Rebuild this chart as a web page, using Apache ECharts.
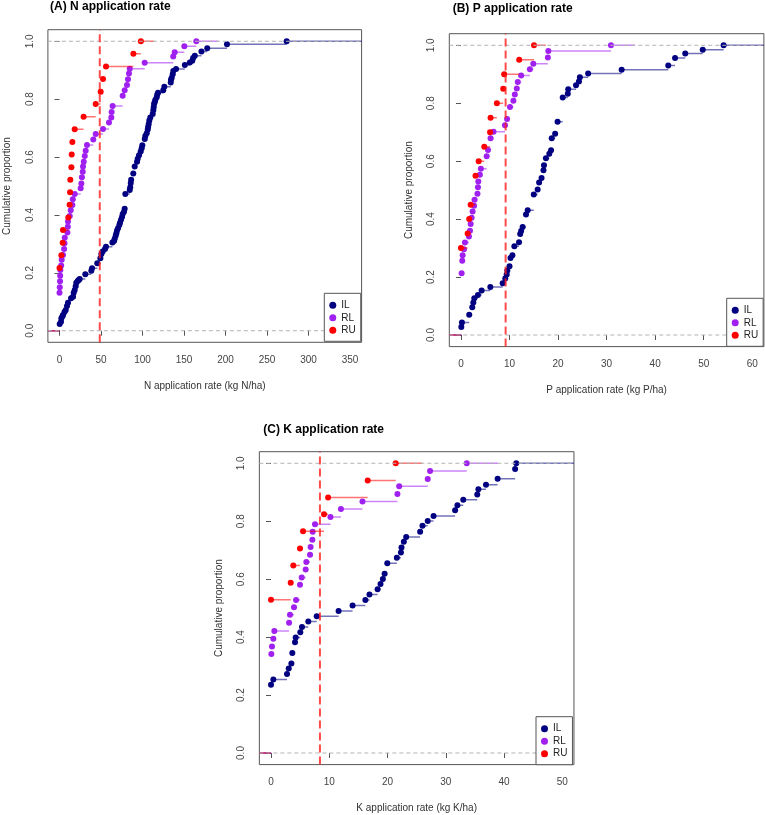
<!DOCTYPE html>
<html><head><meta charset="utf-8">
<script src="https://cdn.jsdelivr.net/npm/echarts@6/dist/echarts.min.js"></script>
<style>html,body{margin:0;padding:0;background:#fff}#c{width:765px;height:815px}</style>
</head><body><div id="c"></div>
<script>
// ---------- DATA (ECDF knots: x value, cumulative proportion) ----------
var N_IL_x = [0.2,1.8,2.2,3.5,4.2,6.0,7.5,9.0,10.2,13.9,16.3,17.1,18.3,19.5,20.2,22.0,23.1,24.3,31.1,38.3,39.2,45.5,49.2,50.4,52.0,54.8,56.0,63.7,65.7,66.5,67.7,68.5,69.3,70.5,72.1,72.9,74.1,75.3,76.1,77.7,78.5,79.3,84.6,85.2,85.8,86.3,88.9,90.6,93.4,94.2,95.8,97.8,99.0,99.8,102.7,103.4,105.1,106.3,106.8,107.5,108.2,109.4,112.3,113.0,113.5,113.9,114.7,115.4,117.1,117.8,118.7,125.0,126.3,134.0,134.3,135.2,136.4,137.1,140.4,151.0,157.0,160.0,161.0,163.0,171.0,178.0,201.8,273.7];
var N_IL_y = [0.023,0.031,0.043,0.050,0.054,0.065,0.072,0.085,0.097,0.112,0.117,0.131,0.141,0.154,0.166,0.172,0.175,0.179,0.195,0.207,0.216,0.233,0.250,0.265,0.274,0.282,0.290,0.305,0.310,0.318,0.328,0.337,0.346,0.354,0.365,0.373,0.383,0.393,0.403,0.411,0.421,0.472,0.486,0.496,0.510,0.522,0.543,0.567,0.584,0.594,0.606,0.619,0.630,0.641,0.662,0.673,0.682,0.695,0.705,0.714,0.726,0.737,0.749,0.762,0.772,0.783,0.789,0.797,0.807,0.816,0.822,0.831,0.843,0.858,0.867,0.874,0.886,0.897,0.904,0.918,0.927,0.933,0.942,0.950,0.965,0.976,0.990,1.0];
var N_RL_x = [0,0.3,0.6,0.8,1.0,2.0,2.6,4.2,5.5,6.0,6.3,9.5,10.0,10.2,12.3,13.5,15.5,16.0,18.3,25.5,26.3,27.0,28.0,28.3,29.2,30.4,31.5,33.1,40.7,43.6,52.4,59.6,62.4,62.8,64.0,76.1,78.5,81.3,82.5,83.7,84.6,102.6,137.0,138.8,150.4,164.8];
var N_RL_y = [0.131,0.150,0.171,0.190,0.210,0.225,0.245,0.262,0.282,0.302,0.321,0.339,0.359,0.377,0.396,0.416,0.434,0.454,0.472,0.492,0.509,0.530,0.549,0.567,0.584,0.604,0.622,0.642,0.661,0.680,0.697,0.719,0.737,0.756,0.776,0.812,0.831,0.849,0.869,0.889,0.905,0.926,0.947,0.962,0.983,1.0];
var N_RU_x = [0,2.2,3.8,4.2,10.6,12.2,12.7,13.0,14.3,14.7,15.5,18.3,29.0,43.6,49.6,52.4,56.0,89.0,98.0];
var N_RU_y = [0.217,0.261,0.304,0.348,0.391,0.435,0.478,0.522,0.565,0.609,0.652,0.696,0.739,0.783,0.826,0.870,0.913,0.957,1.0];

var P_IL_x = [0.07,0.2,1.7,2.33,2.55,2.75,3.5,4.26,6.05,8.6,9.13,9.42,9.55,10.0,10.2,10.6,11.0,11.96,12.2,12.4,12.7,13.4,13.75,15.0,15.8,16.1,16.6,17.0,17.1,17.5,18.2,18.56,18.7,19.4,19.9,20.96,22.0,22.1,23.7,24.3,24.5,26.2,33.1,42.7,44.1,46.2,49.8,54.1];
var P_IL_y = [0.028,0.043,0.070,0.096,0.112,0.127,0.138,0.154,0.166,0.179,0.195,0.209,0.223,0.237,0.266,0.275,0.306,0.320,0.349,0.359,0.373,0.416,0.431,0.485,0.502,0.526,0.542,0.569,0.586,0.610,0.626,0.638,0.679,0.695,0.736,0.820,0.833,0.848,0.862,0.875,0.890,0.903,0.916,0.930,0.956,0.972,0.985,1.0];
var P_RL_x = [0.14,0.27,0.35,0.62,0.82,1.65,1.86,2.0,2.2,2.4,2.7,2.8,3.4,3.5,3.57,3.9,4.1,5.3,5.57,6.1,6.7,9.07,9.5,10.1,10.8,11.1,11.5,11.7,12.4,14.2,14.9,17.9,18.0,30.9];
var P_RL_y = [0.213,0.256,0.275,0.296,0.319,0.340,0.360,0.383,0.405,0.426,0.446,0.467,0.488,0.510,0.530,0.553,0.574,0.617,0.639,0.679,0.702,0.724,0.746,0.787,0.809,0.830,0.851,0.873,0.896,0.917,0.936,0.958,0.980,1.0];
var P_RU_x = [0,1.38,1.7,2.0,3.0,3.65,4.8,6.0,6.1,7.4,8.7,8.9,12.0,15.05];
var P_RU_y = [0.30,0.35,0.40,0.45,0.55,0.60,0.65,0.70,0.75,0.80,0.85,0.90,0.95,1.0];

var K_IL_x = [0,0.4,2.75,3.04,3.5,3.66,4.12,4.24,5.03,5.32,6.4,7.85,11.6,14.0,16.2,16.9,18.3,18.8,19.2,19.5,19.96,21.6,22.3,22.4,22.8,23.2,25.6,26.0,26.9,27.9,31.6,32.0,33.0,35.4,35.6,36.9,38.9,41.9,42.1];
var K_IL_y = [0.236,0.254,0.273,0.292,0.309,0.345,0.382,0.399,0.417,0.435,0.454,0.472,0.490,0.509,0.528,0.547,0.565,0.583,0.601,0.619,0.655,0.674,0.692,0.709,0.729,0.746,0.764,0.784,0.801,0.818,0.838,0.855,0.874,0.892,0.910,0.926,0.947,0.980,1.0];
var K_RL_x = [0.06,0.17,0.4,0.57,3.1,3.26,3.95,4.3,4.98,5.27,5.95,6.06,6.7,6.8,7.1,7.15,7.55,10.2,12.0,15.7,21.7,22.0,26.9,27.3,33.6];
var K_RL_y = [0.342,0.368,0.394,0.421,0.450,0.477,0.503,0.528,0.581,0.606,0.633,0.659,0.684,0.711,0.736,0.764,0.790,0.815,0.842,0.868,0.894,0.921,0.946,0.973,1.0];
var K_RU_x = [0,3.38,3.83,4.98,5.5,9.1,9.8,16.6,21.4];
var K_RU_y = [0.529,0.588,0.647,0.706,0.765,0.824,0.882,0.941,1.0];

var N_ticks = [0,50,100,150,200,250,300,350];
var P_ticks = [0,10,20,30,40,50,60];
var K_ticks = [0,10,20,30,40,50];
var Y_ticks = [0,0.2,0.4,0.6,0.8,1.0];
var N_ref = 48.5, P_ref = 9.2, K_ref = 8.4;
var groupNames = ['IL','RL','RU'];

// ---------- LAYOUT ----------
var FONT = 'Liberation Sans, Arial, sans-serif';
var colors = {IL:'#000080', RL:'#A020F0', RU:'#FF0000'};
var panels = [
  {title:'(A) N application rate', xlabel:'N application rate (kg N/ha)', xmin:-14, xmax:364, ticks:N_ticks, ref:N_ref,
   data:{IL:[N_IL_x,N_IL_y], RL:[N_RL_x,N_RL_y], RU:[N_RU_x,N_RU_y]},
   grid:{left:47.9, top:29.7, width:313.7, height:312.6}, leg:{left:324.3, top:293.3}, tpos:{left:50, top:0.5}},
  {title:'(B) P application rate', xlabel:'P application rate (kg P/ha)', xmin:-2.4, xmax:62.4, ticks:P_ticks, ref:P_ref,
   data:{IL:[P_IL_x,P_IL_y], RL:[P_RL_x,P_RL_y], RU:[P_RU_x,P_RU_y]},
   grid:{left:449.3, top:33.7, width:314.6, height:312.9}, leg:{left:726.7, top:298.3}, tpos:{left:452.7, top:2.3}},
  {title:'(C) K application rate', xlabel:'K application rate (kg K/ha)', xmin:-2, xmax:52, ticks:K_ticks, ref:K_ref,
   data:{IL:[K_IL_x,K_IL_y], RL:[K_RL_x,K_RL_y], RU:[K_RU_x,K_RU_y]},
   grid:{left:259.35, top:451.7, width:314.6, height:312.9}, leg:{left:536, top:716.7}, tpos:{left:263.3, top:423.5}}
];

function median(a){ var s=a.slice().sort(function(p,q){return p-q;}); var n=s.length; return n%2? s[(n-1)/2] : (s[n/2-1]+s[n/2])/2; }
function stepSegments(xs, ys, xmin, xmax, full){
  var n = xs.length, L, R, i;
  if (full){ L = xmin; R = xmax; }
  else {
    var d=[]; for(i=1;i<n;i++) d.push(xs[i]-xs[i-1]);
    var dr = Math.max(0.08*(xs[n-1]-xs[0]), median(d));
    L = Math.max(xmin, xs[0]-2*dr); R = Math.min(xmax, xs[n-1]+2*dr);
  }
  var out = [[L, xs[0], 0]];
  for(i=0;i<n-1;i++) out.push([xs[i], xs[i+1], ys[i]]);
  out.push([xs[n-1], R, ys[n-1]]);
  return out;
}
function hsegRender(color, width, opacity, dash){
  return function(params, api){
    var a = api.coord([api.value(0), api.value(2)]);
    var b = api.coord([api.value(1), api.value(2)]);
    return {type:'line', shape:{x1:a[0], y1:a[1], x2:b[0], y2:b[1]},
      style:{stroke:color, lineWidth:width, opacity:opacity, lineDash:dash||null}};
  };
}

var option = {animation:false, backgroundColor:'#fff', textStyle:{fontFamily:FONT},
  title:[], grid:[], xAxis:[], yAxis:[], legend:[], series:[]};

panels.forEach(function(p, k){
  option.title.push({text:p.title, left:p.tpos.left, top:p.tpos.top, padding:0,
    textStyle:{fontFamily:FONT, fontSize:12, fontWeight:'bold', color:'#000'}});
  option.grid.push({left:p.grid.left, top:p.grid.top, width:p.grid.width, height:p.grid.height,
    show:true, borderColor:'#555', borderWidth:1, backgroundColor:'transparent', containLabel:false});
  option.xAxis.push({type:'value', gridIndex:k, min:p.xmin, max:p.xmax,
    name:p.xlabel, nameLocation:'middle', nameGap:38.5,
    nameTextStyle:{fontFamily:FONT, fontSize:10, color:'#333'},
    axisLine:{show:false}, splitLine:{show:false},
    axisTick:{show:true, length:5, customValues:p.ticks, lineStyle:{color:'#555'}},
    axisLabel:{customValues:p.ticks, fontFamily:FONT, fontSize:10, color:'#444', margin:13}});
  option.yAxis.push({type:'value', gridIndex:k, min:-0.04, max:1.04,
    name:'Cumulative proportion', nameLocation:'middle', nameGap:35.5, nameRotate:90,
    nameTextStyle:{fontFamily:FONT, fontSize:10, color:'#333'},
    axisLine:{show:false}, splitLine:{show:false},
    axisTick:{show:true, length:5, customValues:Y_ticks, lineStyle:{color:'#555'}},
    axisLabel:{customValues:Y_ticks, rotate:90, fontFamily:FONT, fontSize:10, color:'#444', margin:13,
      formatter:function(v){return v.toFixed(1);}}});
  option.legend.push({data:groupNames.map(function(g){return {name:g, icon:'circle'};}),
    orient:'vertical', left:p.leg.left, top:p.leg.top, itemWidth:7, itemHeight:7, itemGap:0.5, z:20,
    padding:[6,5,5,5], borderColor:'#555', borderWidth:1, backgroundColor:'#fff', borderRadius:0,
    selectedMode:false, textStyle:{fontFamily:FONT, fontSize:10, color:'#222', lineHeight:12}});

  groupNames.forEach(function(g, gi){
    var xs = p.data[g][0], ys = p.data[g][1];
    option.series.push({type:'custom', name:g+'-steps', xAxisIndex:k, yAxisIndex:k, silent:true, clip:true,
      z: 2+gi*2, encode:{x:[0,1], y:2},
      renderItem:hsegRender(colors[g], 1.5, 0.55),
      data:stepSegments(xs, ys, p.xmin, p.xmax, gi===0)});
    option.series.push({type:'scatter', name:g, xAxisIndex:k, yAxisIndex:k, silent:true,
      z: 3+gi*2, symbol:'circle', symbolSize:6, itemStyle:{color:colors[g], opacity:1},
      data:xs.map(function(x,i){return [x, ys[i]];})});
  });
  // 0 and 1 reference lines (gray dashed)
  option.series.push({type:'custom', name:'ref01', xAxisIndex:k, yAxisIndex:k, silent:true, z:8,
    encode:{x:[0,1], y:2}, renderItem:hsegRender('#b3b3b3', 1, 1, [4,3]),
    data:[[p.xmin, p.xmax, 0],[p.xmin, p.xmax, 1]]});
  // vertical red dashed line
  option.series.push({type:'custom', name:'vref', xAxisIndex:k, yAxisIndex:k, silent:true, z:9,
    encode:{x:0, y:[1,2]},
    renderItem:function(params, api){
      var a = api.coord([api.value(0), api.value(1)]);
      var b = api.coord([api.value(0), api.value(2)]);
      return {type:'line', shape:{x1:a[0], y1:a[1], x2:b[0], y2:b[1]},
        style:{stroke:'rgba(255,30,30,0.8)', lineWidth:2, lineDash:[8,4]}};
    },
    data:[[p.ref, -0.04, 1.04]]});
});

var chart = echarts.init(document.getElementById('c'), null, {renderer:'canvas'});
chart.setOption(option);
</script></body></html>
